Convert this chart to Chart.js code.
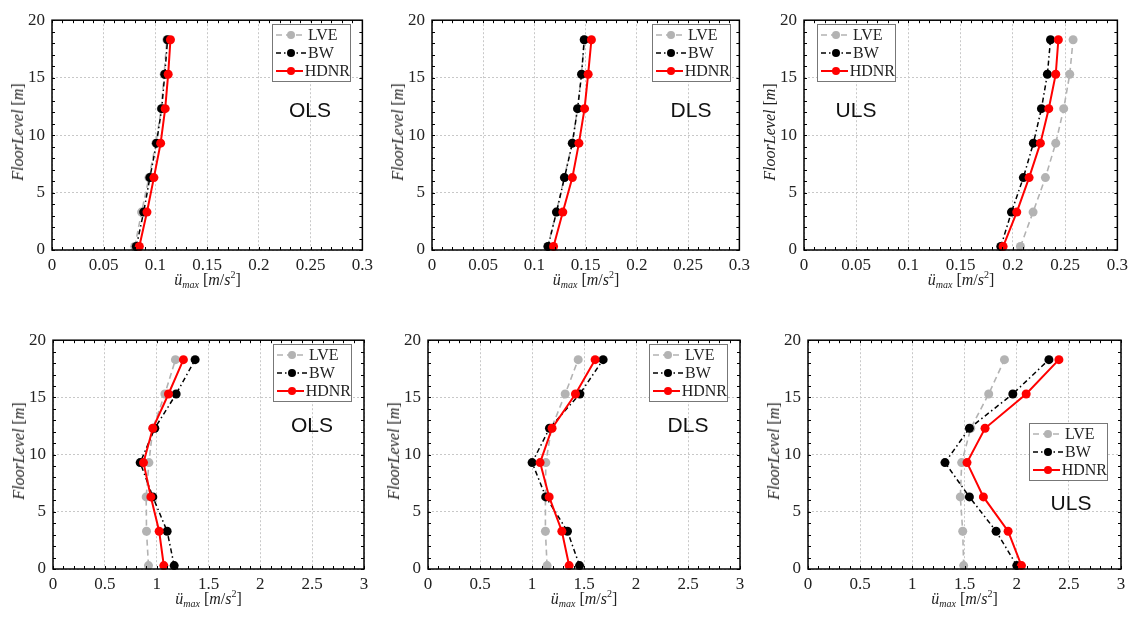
<!DOCTYPE html>
<html lang="en">
<head>
    <meta charset="UTF-8">
    <title>Floor acceleration profiles</title>
    <script src="https://cdn.jsdelivr.net/npm/chart.js"></script>
    <style>
        body { margin: 0; background: #fff; width: 1131px; height: 617px; position: relative; overflow: hidden; }
        .panel { position: absolute; }
        .ytitle, .xtitle, .tag, .legend { position: absolute; font-family: "Liberation Serif", serif; color: #222; white-space: nowrap; }
        .ytitle { font-size: 16px; transform: translate(-50%, -50%) rotate(-90deg); }
        .xtitle { font-size: 16px; transform: translate(-50%, -50%); }
        .xtitle sub { font-size: 10px; vertical-align: -3px; }
        .xtitle sup { font-size: 10px; vertical-align: 7px; }
        .tag { font-family: "Liberation Sans", Arial, sans-serif; font-size: 21px; color: #111; transform: translate(-50%, -50%); }
        .legend { background: #fff; border: 1px solid #777; width: 77px; height: 55px; font-size: 16px; }
        .legend div { height: 18px; line-height: 18px; display: flex; align-items: center; }
        .legend svg { margin: 0 2px 0 3px; }
    </style>
</head>
<body>
<script>
    // floor heights (m)
    const floors = [0.3, 3.3, 6.3, 9.3, 12.3, 15.3, 18.3];
    const seriesNames = ['LVE', 'BW', 'HDNR'];

    // peak floor accelerations, top row (m/s2)
    const lveOlsTop = [0.0800, 0.0866, 0.0937, 0.1004, 0.1056, 0.1084, 0.1110];
    const bwOlsTop  = [0.0815, 0.0886, 0.0946, 0.1010, 0.1060, 0.1090, 0.1117];
    const hdOlsTop  = [0.0844, 0.0918, 0.0985, 0.1050, 0.1094, 0.1123, 0.1145];

    const lveDlsTop = [0.1130, 0.1213, 0.1291, 0.1368, 0.1420, 0.1459, 0.1485];
    const bwDlsTop  = [0.1132, 0.1215, 0.1293, 0.1370, 0.1421, 0.1460, 0.1486];
    const hdDlsTop  = [0.1186, 0.1277, 0.1370, 0.1434, 0.1489, 0.1524, 0.1556];

    const lveUlsTop = [0.2072, 0.2193, 0.2311, 0.2410, 0.2486, 0.2544, 0.2576];
    const bwUlsTop  = [0.1884, 0.1986, 0.2100, 0.2196, 0.2273, 0.2330, 0.2360];
    const hdUlsTop  = [0.1906, 0.2037, 0.2155, 0.2263, 0.2343, 0.2410, 0.2435];

    // bottom row (m/s2)
    const lveOlsBot = [0.921, 0.902, 0.899, 0.925, 0.963, 1.079, 1.181];
    const bwOlsBot  = [1.169, 1.101, 0.963, 0.841, 0.982, 1.188, 1.371];
    const hdOlsBot  = [1.069, 1.024, 0.944, 0.873, 0.963, 1.114, 1.258];

    const lveDlsBot = [1.145, 1.129, 1.129, 1.133, 1.187, 1.319, 1.444];
    const bwDlsBot  = [1.457, 1.341, 1.133, 1.001, 1.168, 1.460, 1.684];
    const hdDlsBot  = [1.357, 1.287, 1.165, 1.078, 1.193, 1.418, 1.607];

    const lveUlsBot = [1.492, 1.483, 1.460, 1.473, 1.560, 1.732, 1.883];
    const bwUlsBot  = [2.001, 1.803, 1.547, 1.313, 1.547, 1.963, 2.309];
    const hdUlsBot  = [2.046, 1.918, 1.681, 1.524, 1.697, 2.091, 2.405];

    // tick labels
    const yTicks = [0, 5, 10, 15, 20];
    const xTicksTop = [0, 0.05, 0.1, 0.15, 0.2, 0.25, 0.3];
    const xTicksBot = [0, 0.5, 1, 1.5, 2, 2.5, 3];

    // layout of each panel: plot area box + legend / tag positions
    const panels = [
        { name: 'OLS', series: [lveOlsTop, bwOlsTop, hdOlsTop], xt: xTicksTop, minor: 0.01, box: [52, 13, 363, 250], leg: [272, 24], tag: [310, 110] },
        { name: 'DLS', series: [lveDlsTop, bwDlsTop, hdDlsTop], xt: xTicksTop, minor: 0.01, box: [432, 13, 740, 250], leg: [652, 24], tag: [691, 110] },
        { name: 'ULS', series: [lveUlsTop, bwUlsTop, hdUlsTop], xt: xTicksTop, minor: 0.01, box: [804, 13, 1118, 250], leg: [817, 24], tag: [856, 110] },
        { name: 'OLS', series: [lveOlsBot, bwOlsBot, hdOlsBot], xt: xTicksBot, minor: 0.1, box: [53, 333, 364, 569], leg: [273, 344], tag: [312, 425] },
        { name: 'DLS', series: [lveDlsBot, bwDlsBot, hdDlsBot], xt: xTicksBot, minor: 0.1, box: [428, 333, 740, 569], leg: [649, 344], tag: [688, 425] },
        { name: 'ULS', series: [lveUlsBot, bwUlsBot, hdUlsBot], xt: xTicksBot, minor: 0.1, box: [808, 333, 1121, 569], leg: [1029, 423], tag: [1071, 503] }
    ];

    const styles = [
        { color: '#b3b3b3', dash: [6, 4], width: 1.6, order: 3 },
        { color: '#000000', dash: [5, 3, 1.5, 3], width: 1.5, order: 2 },
        { color: '#ff0000', dash: [], width: 2, order: 1 }
    ];

    const PAD_L = 45, PAD_T = 10, PAD_R = 15, PAD_B = 30;

    // frame + inward major/minor ticks on all four sides
    const framePlugin = {
        id: 'frame',
        afterDraw(chart, args, opts) {
            const { ctx, chartArea: a, scales: { x, y } } = chart;
            ctx.save();
            ctx.strokeStyle = '#000';
            ctx.lineWidth = 1;
            for (let i = 0; i <= Math.round(x.max / opts.minor); i++) {
                const px = Math.round(x.getPixelForValue(i * opts.minor)) + 0.5;
                ctx.beginPath();
                ctx.moveTo(px, a.bottom); ctx.lineTo(px, a.bottom - 3);
                ctx.moveTo(px, a.top); ctx.lineTo(px, a.top + 3);
                ctx.stroke();
            }
            for (let v = 0; v <= y.max; v += 1) {
                const py = Math.round(y.getPixelForValue(v)) + 0.5;
                ctx.beginPath();
                ctx.moveTo(a.left, py); ctx.lineTo(a.left + 3, py);
                ctx.moveTo(a.right, py); ctx.lineTo(a.right - 3, py);
                ctx.stroke();
            }
            ctx.lineWidth = 1.5;
            ctx.strokeRect(a.left, a.top, a.right - a.left, a.bottom - a.top);
            ctx.restore();
        }
    };

    function fmt(v) { return String(+v.toFixed(2)); }

    function addText(cls, html, x, y) {
        const d = document.createElement('div');
        d.className = cls;
        d.innerHTML = html;
        d.style.left = x + 'px';
        d.style.top = y + 'px';
        document.body.appendChild(d);
        return d;
    }

    panels.forEach(p => {
        const [l, t, r, b] = p.box;
        const wrap = document.createElement('div');
        wrap.className = 'panel';
        wrap.style.left = (l - PAD_L) + 'px';
        wrap.style.top = (t - PAD_T) + 'px';
        wrap.style.width = (r - l + PAD_L + PAD_R) + 'px';
        wrap.style.height = (b - t + PAD_T + PAD_B) + 'px';
        const cv = document.createElement('canvas');
        wrap.appendChild(cv);
        document.body.appendChild(wrap);

        const xMax = p.xt[p.xt.length - 1];
        new Chart(cv.getContext('2d'), {
            type: 'line',
            data: {
                datasets: p.series.map((vals, i) => ({
                    label: seriesNames[i],
                    data: vals.map((v, j) => ({ x: v, y: floors[j] })),
                    borderColor: styles[i].color,
                    backgroundColor: styles[i].color,
                    pointBackgroundColor: styles[i].color,
                    pointBorderColor: styles[i].color,
                    borderDash: styles[i].dash,
                    borderWidth: styles[i].width,
                    pointRadius: 4.5,
                    pointBorderWidth: 0,
                    order: styles[i].order,
                    tension: 0,
                    clip: false
                }))
            },
            options: {
                responsive: true,
                maintainAspectRatio: false,
                animation: false,
                events: [],
                layout: { padding: { top: PAD_T, right: PAD_R, left: 0, bottom: 0 } },
                plugins: { legend: { display: false }, tooltip: { enabled: false }, frame: { minor: p.minor } },
                scales: {
                    x: {
                        type: 'linear', min: 0, max: xMax,
                        afterBuildTicks: s => { s.ticks = p.xt.map(v => ({ value: v })); },
                        afterFit: s => { s.height = PAD_B; },
                        grid: { color: '#c8c8c8', lineWidth: 1, drawTicks: false },
                        border: { display: false, dash: [2, 2] },
                        ticks: { padding: 5, color: '#222', maxRotation: 0, autoSkip: false,
                                 font: { family: 'Liberation Serif', size: 17 }, callback: v => fmt(v) }
                    },
                    y: {
                        type: 'linear', min: 0, max: 20,
                        afterBuildTicks: s => { s.ticks = yTicks.map(v => ({ value: v })); },
                        afterFit: s => { s.width = PAD_L; },
                        grid: { color: '#c8c8c8', lineWidth: 1, drawTicks: false },
                        border: { display: false, dash: [2, 2] },
                        ticks: { padding: 7, color: '#222', font: { family: 'Liberation Serif', size: 17 }, callback: v => fmt(v) }
                    }
                }
            },
            plugins: [framePlugin]
        });

        // axis titles and panel tag
        addText('ytitle', '<i>FloorLevel</i> [<i>m</i>]', l - 34, (t + b) / 2);
        addText('xtitle', '<i>ü</i><sub><i>max</i></sub> [<i>m</i>/<i>s</i><sup>2</sup>]', (l + r) / 2, b + 29);
        addText('tag', p.name, p.tag[0], p.tag[1]);

        // legend box
        const leg = addText('legend', '', p.leg[0], p.leg[1]);
        leg.style.paddingTop = '1px';
        seriesNames.forEach((n, i) => {
            const s = styles[i];
            leg.innerHTML += `<div><svg width="30" height="10"><line x1="0" y1="5" x2="30" y2="5" stroke="${s.color}" stroke-width="${s.width}" stroke-dasharray="${s.dash.join(' ')}"/><circle cx="15" cy="5" r="4" fill="${s.color}"/></svg>${n}</div>`;
        });
    });
</script>
</body>
</html>
